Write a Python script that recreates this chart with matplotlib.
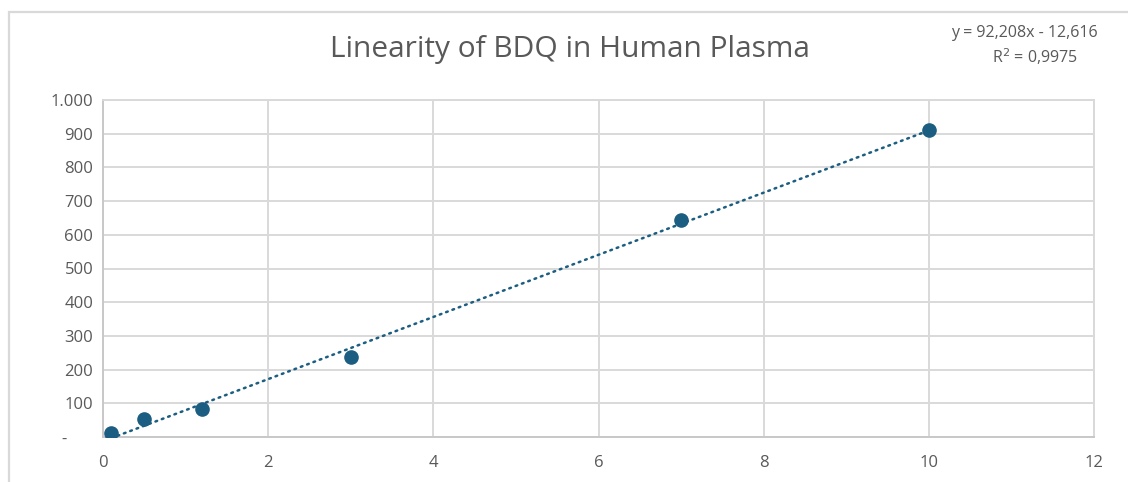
import numpy as np
import matplotlib.pyplot as plt
from matplotlib.patches import Rectangle
from matplotlib.ticker import FuncFormatter

# calibration points
conc = [0.1, 0.5, 1.2, 3.0, 7.0, 10.0]
response = [12, 52, 83, 236, 643, 911]

# linear trendline as reported on the chart
slope = 92.208
intercept = -12.616
r_squared = 0.9975

x_ticks = [0, 2, 4, 6, 8, 10, 12]
y_ticks = [0, 100, 200, 300, 400, 500, 600, 700, 800, 900, 1000]

point_color = "#1b5e81"
grid_color = "#d9d9d9"
text_color = "#595959"

plt.rcParams["font.family"] = ["Open Sans", "DejaVu Sans"]

fig = plt.figure(figsize=(11.28, 4.82), dpi=100)

# chart frame
fig.patches.append(Rectangle((9 / 1128, -0.1), 1.2, (482 - 12) / 482 + 0.1,
                             transform=fig.transFigure, fill=False,
                             edgecolor=grid_color, linewidth=1.6))

ax = fig.add_axes([103 / 1128, 45 / 482, 991 / 1128, 337 / 482])

x_fit = np.array([conc[0], conc[-1]])
ax.plot(x_fit, slope * x_fit + intercept, linestyle=(0, (0.7, 2.0)),
        dash_capstyle="round", color=point_color, linewidth=1.8, zorder=3)
ax.plot(conc, response, "o", color=point_color, markersize=9.5, zorder=4)

ax.set_xlim(0, 12)
ax.set_ylim(0, 1000)
ax.set_xticks(x_ticks)
ax.set_yticks(y_ticks)


def thousands(v, pos):
    # accounting style: zero shown as a dash
    if v == 0:
        return "-      "
    return f"{int(v):,}".replace(",", ".")


ax.yaxis.set_major_formatter(FuncFormatter(thousands))
ax.grid(True, color=grid_color, linewidth=1.4)
ax.set_axisbelow(True)
for side in ["top", "right", "left", "bottom"]:
    ax.spines[side].set_color(grid_color)
    ax.spines[side].set_linewidth(1.4)
ax.spines["left"].set_color("#c8c8c8")
ax.spines["bottom"].set_color("#c8c8c8")
ax.tick_params(length=0, labelsize=12, labelcolor=text_color)
ax.tick_params(axis="x", pad=13)
ax.tick_params(axis="y", pad=7)

fig.text(570 / 1128, 1 - 50 / 482, "Linearity of BDQ in Human Plasma",
         ha="center", va="center", fontsize=21.5, color=text_color)

eq = f"y = {slope:.3f}x - {abs(intercept):.3f}".replace(".", ",")
fig.text(1098 / 1128, 1 - 33 / 482, eq, ha="right", va="center",
         fontsize=11.5, color=text_color)
fig.text(1035 / 1128, 1 - 57 / 482,
         "R$^2$ = " + f"{r_squared:.4f}".replace(".", ","),
         ha="center", va="center", fontsize=11.5, color=text_color)

fig.savefig("out.png", dpi=100)
